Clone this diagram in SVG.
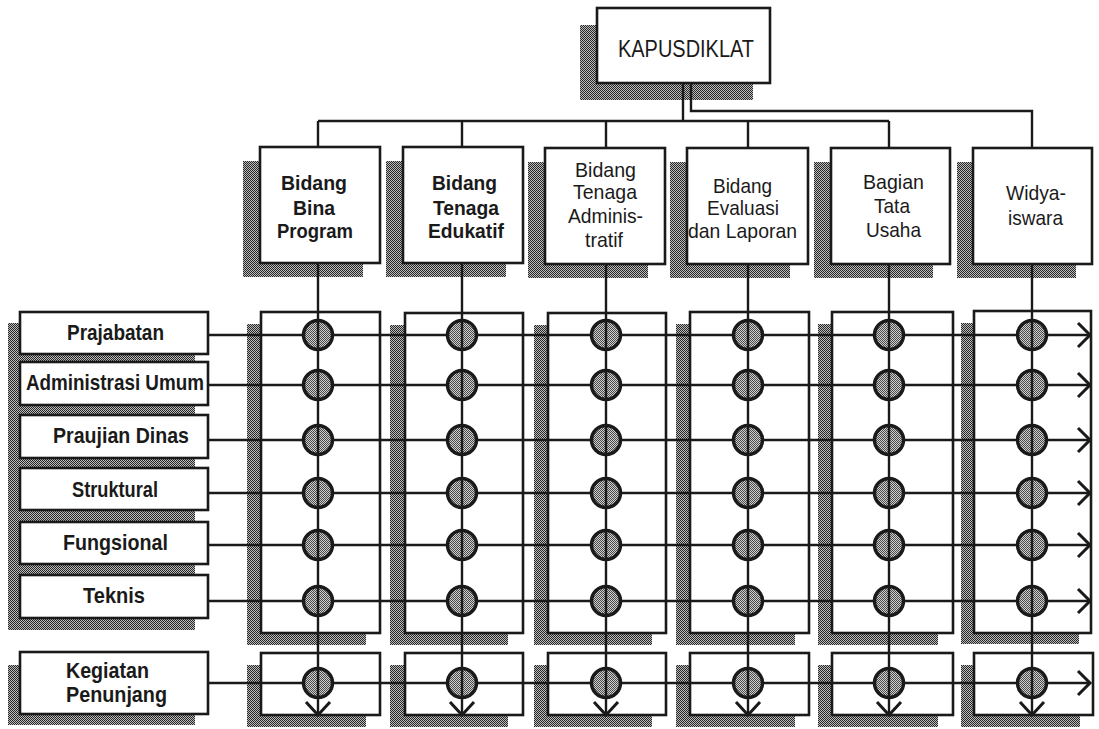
<svg xmlns="http://www.w3.org/2000/svg" width="1099" height="729" viewBox="0 0 1099 729">
<defs>
<pattern id="shade" width="2" height="2" patternUnits="userSpaceOnUse"><rect width="2" height="2" fill="#bdbdbd"/><rect width="1" height="1" fill="#262626"/><rect x="1" y="1" width="1" height="1" fill="#262626"/></pattern>
<pattern id="dot" width="2" height="2" patternUnits="userSpaceOnUse"><rect width="2" height="2" fill="#d0d0d0"/><rect width="1" height="1" fill="#4a4a4a"/><rect x="1" y="1" width="1" height="1" fill="#4a4a4a"/></pattern>
</defs>
<style>
.sh{fill:url(#shade)}
.bx{fill:#fff;stroke:#1a1a1a;stroke-width:2.6}
.t{font-family:"Liberation Sans",Arial,sans-serif;font-size:21px;fill:#1a1a1a}
.k{font-size:23px}
.b{font-weight:bold}
.lb{font-family:"Liberation Sans",Arial,sans-serif;font-size:22px;font-weight:bold;fill:#1a1a1a}
.ln{fill:none;stroke:#1a1a1a;stroke-width:2.4}
.ar{fill:none;stroke:#1a1a1a;stroke-width:3;stroke-linejoin:miter}
.jc{fill:url(#dot);stroke:#1a1a1a;stroke-width:3.5}
</style>
<rect width="1099" height="729" fill="#fff"/>

<g id="kapusdiklat">
<rect class="sh" x="580" y="25" width="173" height="75"/>
<rect class="bx" x="597" y="8" width="173" height="75"/>
<text class="t k" x="618" y="57" textLength="136" lengthAdjust="spacingAndGlyphs">KAPUSDIKLAT</text>
</g>

<g id="bidang-bina-program">
<rect class="sh" x="243" y="161" width="120" height="116"/>
<rect class="bx" x="260" y="147" width="120" height="116"/>
<text class="t b" x="281" y="190" textLength="66" lengthAdjust="spacingAndGlyphs">Bidang</text>
<text class="t b" x="293" y="215" textLength="42" lengthAdjust="spacingAndGlyphs">Bina</text>
<text class="t b" x="277" y="238" textLength="76" lengthAdjust="spacingAndGlyphs">Program</text>
</g>
<g id="bidang-tenaga-edukatif">
<rect class="sh" x="386" y="161" width="120" height="116"/>
<rect class="bx" x="403" y="147" width="120" height="116"/>
<text class="t b" x="432" y="190" textLength="65" lengthAdjust="spacingAndGlyphs">Bidang</text>
<text class="t b" x="433" y="215" textLength="66" lengthAdjust="spacingAndGlyphs">Tenaga</text>
<text class="t b" x="428" y="238" textLength="76" lengthAdjust="spacingAndGlyphs">Edukatif</text>
</g>
<g id="bidang-tenaga-administratif">
<rect class="sh" x="528" y="162" width="120" height="116"/>
<rect class="bx" x="545" y="148" width="120" height="116"/>
<text class="t" x="575" y="177" textLength="61" lengthAdjust="spacingAndGlyphs">Bidang</text>
<text class="t" x="573" y="199" textLength="64" lengthAdjust="spacingAndGlyphs">Tenaga</text>
<text class="t" x="568" y="223" textLength="75" lengthAdjust="spacingAndGlyphs">Adminis-</text>
<text class="t" x="585" y="247" textLength="38" lengthAdjust="spacingAndGlyphs">tratif</text>
</g>
<g id="bidang-evaluasi">
<rect class="sh" x="670" y="162" width="120" height="116"/>
<rect class="bx" x="687" y="148" width="121" height="116"/>
<text class="t" x="713" y="193" textLength="59" lengthAdjust="spacingAndGlyphs">Bidang</text>
<text class="t" x="707" y="215" textLength="72" lengthAdjust="spacingAndGlyphs">Evaluasi</text>
<text class="t" x="688" y="238" textLength="109" lengthAdjust="spacingAndGlyphs">dan Laporan</text>
</g>
<g id="bagian-tata-usaha">
<rect class="sh" x="814" y="162" width="119" height="116"/>
<rect class="bx" x="831" y="148" width="119" height="116"/>
<text class="t" x="863" y="189" textLength="61" lengthAdjust="spacingAndGlyphs">Bagian</text>
<text class="t" x="874" y="213" textLength="36" lengthAdjust="spacingAndGlyphs">Tata</text>
<text class="t" x="866" y="237" textLength="55" lengthAdjust="spacingAndGlyphs">Usaha</text>
</g>
<g id="widyaiswara">
<rect class="sh" x="957" y="162" width="119" height="116"/>
<rect class="bx" x="973" y="148" width="119" height="116"/>
<text class="t" x="1006" y="200" textLength="60" lengthAdjust="spacingAndGlyphs">Widya-</text>
<text class="t" x="1008" y="225" textLength="55" lengthAdjust="spacingAndGlyphs">iswara</text>
</g>

<g id="programs">
<rect class="sh" x="8" y="323" width="187" height="307"/>
<g id="prajabatan"><rect class="bx" x="20" y="312" width="188" height="42"/><text class="lb" x="67" y="340" textLength="97" lengthAdjust="spacingAndGlyphs">Prajabatan</text></g>
<g id="administrasi-umum"><rect class="bx" x="20" y="362" width="188" height="43"/><text class="lb" x="26" y="390" textLength="178" lengthAdjust="spacingAndGlyphs">Administrasi Umum</text></g>
<g id="praujian-dinas"><rect class="bx" x="20" y="415" width="188" height="43"/><text class="lb" x="53" y="443" textLength="136" lengthAdjust="spacingAndGlyphs">Praujian Dinas</text></g>
<g id="struktural"><rect class="bx" x="20" y="468" width="188" height="42"/><text class="lb" x="72" y="497" textLength="86" lengthAdjust="spacingAndGlyphs">Struktural</text></g>
<g id="fungsional"><rect class="bx" x="20" y="522" width="188" height="42"/><text class="lb" x="63" y="550" textLength="105" lengthAdjust="spacingAndGlyphs">Fungsional</text></g>
<g id="teknis"><rect class="bx" x="20" y="575" width="188" height="43"/><text class="lb" x="83" y="603" textLength="62" lengthAdjust="spacingAndGlyphs">Teknis</text></g>
</g>
<g id="kegiatan-penunjang">
<rect class="sh" x="8" y="665" width="187" height="60"/>
<rect class="bx" x="20" y="652" width="188" height="62"/>
<text class="lb" x="66" y="678" textLength="83" lengthAdjust="spacingAndGlyphs">Kegiatan</text>
<text class="lb" x="66" y="702" textLength="101" lengthAdjust="spacingAndGlyphs">Penunjang</text>
</g>

<g id="panels">
<g id="panel-1"><rect class="sh" x="247" y="324" width="119" height="321"/><rect class="bx" x="261" y="312" width="119" height="321"/><rect class="sh" x="247" y="665" width="119" height="62"/><rect class="bx" x="261" y="653" width="119" height="62"/></g>
<g id="panel-2"><rect class="sh" x="390" y="325" width="118" height="320"/><rect class="bx" x="405" y="313" width="118" height="320"/><rect class="sh" x="390" y="665" width="118" height="62"/><rect class="bx" x="405" y="653" width="118" height="62"/></g>
<g id="panel-3"><rect class="sh" x="534" y="325" width="118" height="320"/><rect class="bx" x="548" y="313" width="118" height="320"/><rect class="sh" x="534" y="665" width="118" height="62"/><rect class="bx" x="548" y="653" width="118" height="62"/></g>
<g id="panel-4"><rect class="sh" x="676" y="324" width="119" height="321"/><rect class="bx" x="690" y="312" width="119" height="321"/><rect class="sh" x="676" y="665" width="119" height="62"/><rect class="bx" x="690" y="653" width="119" height="62"/></g>
<g id="panel-5"><rect class="sh" x="818" y="324" width="120" height="321"/><rect class="bx" x="832" y="312" width="121" height="321"/><rect class="sh" x="818" y="665" width="120" height="62"/><rect class="bx" x="832" y="653" width="121" height="62"/></g>
<g id="panel-6"><rect class="sh" x="961" y="323" width="118" height="321"/><rect class="bx" x="974" y="311" width="117" height="322"/><rect class="sh" x="961" y="665" width="119" height="62"/><rect class="bx" x="974" y="653" width="119" height="62"/></g>
</g>

<g id="connectors">
<path class="ln" d="M683 83V121M318 121H889M318 121V147M462 121V147M606 121V148M748 121V148M889 121V148M691 83V111H1032V148"/>
<g id="rows">
<path class="ln" d="M208 335H1089M208 385H1089M208 440H1089M208 493H1089M208 545H1089M208 601H1089M208 683H1089"/>
<path class="ar" d="M1078 323L1090 335L1078 347M1078 373L1090 385L1078 397M1078 428L1090 440L1078 452M1078 481L1090 493L1078 505M1078 533L1090 545L1078 557M1078 589L1090 601L1078 613M1078 671L1090 683L1078 695"/>
</g>
<g id="junctions">
<circle class="jc" cx="318" cy="335" r="14.5"/><circle class="jc" cx="318" cy="385" r="14.5"/><circle class="jc" cx="318" cy="440" r="14.5"/><circle class="jc" cx="318" cy="493" r="14.5"/><circle class="jc" cx="318" cy="545" r="14.5"/><circle class="jc" cx="318" cy="601" r="14.5"/><circle class="jc" cx="318" cy="683" r="14.5"/>
<circle class="jc" cx="462" cy="335" r="14.5"/><circle class="jc" cx="462" cy="385" r="14.5"/><circle class="jc" cx="462" cy="440" r="14.5"/><circle class="jc" cx="462" cy="493" r="14.5"/><circle class="jc" cx="462" cy="545" r="14.5"/><circle class="jc" cx="462" cy="601" r="14.5"/><circle class="jc" cx="462" cy="683" r="14.5"/>
<circle class="jc" cx="606" cy="335" r="14.5"/><circle class="jc" cx="606" cy="385" r="14.5"/><circle class="jc" cx="606" cy="440" r="14.5"/><circle class="jc" cx="606" cy="493" r="14.5"/><circle class="jc" cx="606" cy="545" r="14.5"/><circle class="jc" cx="606" cy="601" r="14.5"/><circle class="jc" cx="606" cy="683" r="14.5"/>
<circle class="jc" cx="748" cy="335" r="14.5"/><circle class="jc" cx="748" cy="385" r="14.5"/><circle class="jc" cx="748" cy="440" r="14.5"/><circle class="jc" cx="748" cy="493" r="14.5"/><circle class="jc" cx="748" cy="545" r="14.5"/><circle class="jc" cx="748" cy="601" r="14.5"/><circle class="jc" cx="748" cy="683" r="14.5"/>
<circle class="jc" cx="889" cy="335" r="14.5"/><circle class="jc" cx="889" cy="385" r="14.5"/><circle class="jc" cx="889" cy="440" r="14.5"/><circle class="jc" cx="889" cy="493" r="14.5"/><circle class="jc" cx="889" cy="545" r="14.5"/><circle class="jc" cx="889" cy="601" r="14.5"/><circle class="jc" cx="889" cy="683" r="14.5"/>
<circle class="jc" cx="1032" cy="335" r="14.5"/><circle class="jc" cx="1032" cy="385" r="14.5"/><circle class="jc" cx="1032" cy="440" r="14.5"/><circle class="jc" cx="1032" cy="493" r="14.5"/><circle class="jc" cx="1032" cy="545" r="14.5"/><circle class="jc" cx="1032" cy="601" r="14.5"/><circle class="jc" cx="1032" cy="683" r="14.5"/>
</g>
<g id="columns">
<path class="ln" d="M318 263V714M462 263V714M606 264V714M748 264V714M889 264V714M1032 264V714"/>
<path class="ar" d="M306 702L318 715L330 702M450 702L462 715L474 702M594 702L606 715L618 702M736 702L748 715L760 702M877 702L889 715L901 702M1020 702L1032 715L1044 702"/>
</g>
</g>
</svg>
